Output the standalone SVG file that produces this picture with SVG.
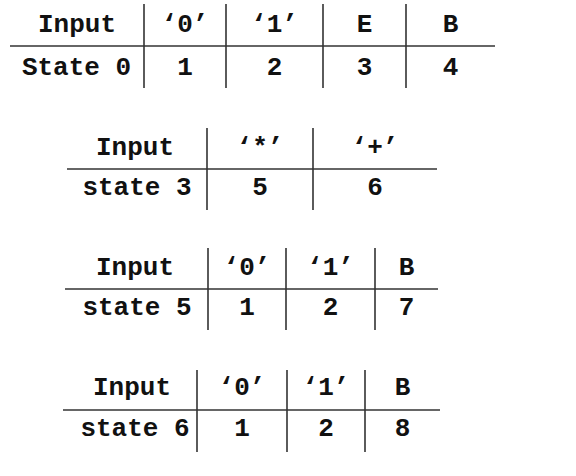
<svg xmlns="http://www.w3.org/2000/svg" width="576" height="476" viewBox="0 0 576 476">
<style>
text{font-family:"Courier New","Liberation Mono",monospace;font-weight:bold;font-size:26px;fill:#111;text-anchor:middle}
line{stroke:#333;stroke-width:1.6}
</style>
<rect width="576" height="476" fill="#fff"/>
<g id="table-state0">
<line x1="10" y1="46" x2="495" y2="46"/>
<line x1="144" y1="4" x2="144" y2="88"/>
<line x1="226" y1="4" x2="226" y2="88"/>
<line x1="323" y1="4" x2="323" y2="88"/>
<line x1="406" y1="4" x2="406" y2="88"/>
<text x="77" y="32">Input</text>
<text x="185" y="32">‘0’</text>
<text x="274.5" y="32">‘1’</text>
<text x="364.5" y="32">E</text>
<text x="450.5" y="32">B</text>
<text x="76.5" y="75">State 0</text>
<text x="185" y="75">1</text>
<text x="274.5" y="75">2</text>
<text x="364.5" y="75">3</text>
<text x="450.5" y="75">4</text>
</g>
<g id="table-state3">
<line x1="67" y1="169" x2="437" y2="169"/>
<line x1="207" y1="128" x2="207" y2="210"/>
<line x1="313" y1="128" x2="313" y2="210"/>
<text x="135" y="155">Input</text>
<text x="260" y="155">‘*’</text>
<text x="375" y="155">‘+’</text>
<text x="137" y="195">state 3</text>
<text x="260" y="195">5</text>
<text x="375" y="195">6</text>
</g>
<g id="table-state5">
<line x1="65" y1="289" x2="438" y2="289"/>
<line x1="208" y1="248" x2="208" y2="330"/>
<line x1="286" y1="248" x2="286" y2="330"/>
<line x1="375" y1="248" x2="375" y2="330"/>
<text x="135" y="275">Input</text>
<text x="247" y="275">‘0’</text>
<text x="330.5" y="275">‘1’</text>
<text x="406.5" y="275">B</text>
<text x="137" y="315">state 5</text>
<text x="247" y="315">1</text>
<text x="330.5" y="315">2</text>
<text x="406.5" y="315">7</text>
</g>
<g id="table-state6">
<line x1="63" y1="410" x2="440" y2="410"/>
<line x1="197" y1="370" x2="197" y2="452"/>
<line x1="287" y1="370" x2="287" y2="452"/>
<line x1="365" y1="370" x2="365" y2="452"/>
<text x="132" y="395">Input</text>
<text x="242" y="395">‘0’</text>
<text x="326" y="395">‘1’</text>
<text x="402.5" y="395">B</text>
<text x="135" y="436">state 6</text>
<text x="242" y="436">1</text>
<text x="326" y="436">2</text>
<text x="402.5" y="436">8</text>
</g>
</svg>
